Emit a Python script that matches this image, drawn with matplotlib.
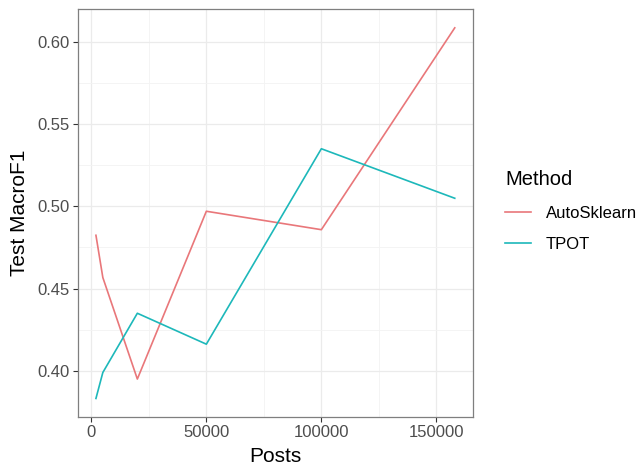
import matplotlib
matplotlib.use("Agg")
import matplotlib.pyplot as plt

# Valores
posts = [2000, 5000, 20000, 50000, 100000, 158000]
autosklearn = [0.4824, 0.4567, 0.395, 0.497, 0.4858, 0.6085]
tpot = [0.3832, 0.399, 0.435, 0.4162, 0.535, 0.5049]

x_ticks = [0, 50000, 100000, 150000]
y_ticks = [0.40, 0.45, 0.50, 0.55, 0.60]

plt.rcParams['font.family'] = ['Liberation Sans', 'DejaVu Sans']

fig = plt.figure(figsize=(6.4, 4.67), dpi=100)
ax = fig.add_axes([78 / 640, 1 - 417 / 467, (472.7 - 78) / 640, (417 - 9.3) / 467])

ax.plot(posts, autosklearn, color='#E9777A', lw=1.2, label='AutoSklearn')
ax.plot(posts, tpot, color='#1DB8BA', lw=1.2, label='TPOT')

# limites com expansão de 5% como no ggplot
xr = max(posts) - min(posts)
ax.set_xlim(min(posts) - 0.05 * xr, max(posts) + 0.05 * xr)
ymin = min(autosklearn + tpot)
ymax = max(autosklearn + tpot)
yr = ymax - ymin
ax.set_ylim(ymin - 0.05 * yr, ymax + 0.05 * yr)

ax.set_xticks(x_ticks)
ax.set_xticklabels([str(v) for v in x_ticks])
ax.set_yticks(y_ticks)
ax.set_yticklabels([f"{v:.2f}" for v in y_ticks])
ax.set_xticks([25000, 75000, 125000], minor=True)
ax.set_yticks([0.425, 0.475, 0.525, 0.575], minor=True)

ax.grid(True, which='major', color='#EBEBEB', lw=0.9)
ax.grid(True, which='minor', color='#F3F3F3', lw=0.6)
ax.set_axisbelow(True)
for s in ax.spines.values():
    s.set_color('#7F7F7F')
    s.set_linewidth(0.9)
ax.tick_params(which='major', length=3.5, color='#333333', labelsize=12,
               labelcolor='#4D4D4D', pad=2.5)
ax.tick_params(which='minor', length=0)

ax.set_xlabel("Posts", fontsize=15, labelpad=5)
ax.set_ylabel("Test MacroF1", fontsize=15, labelpad=6)

leg = fig.legend(*ax.get_legend_handles_labels(), title="Method",
                 loc='upper left', bbox_to_anchor=(505 / 640, 1 - 170 / 467),
                 frameon=False, fontsize=12, title_fontsize=14.5,
                 borderpad=0, borderaxespad=0,
                 handlelength=1.55, handletextpad=0.9, labelspacing=1.0)
leg._legend_box.align = 'left'

fig.savefig("out.png", dpi=100)
